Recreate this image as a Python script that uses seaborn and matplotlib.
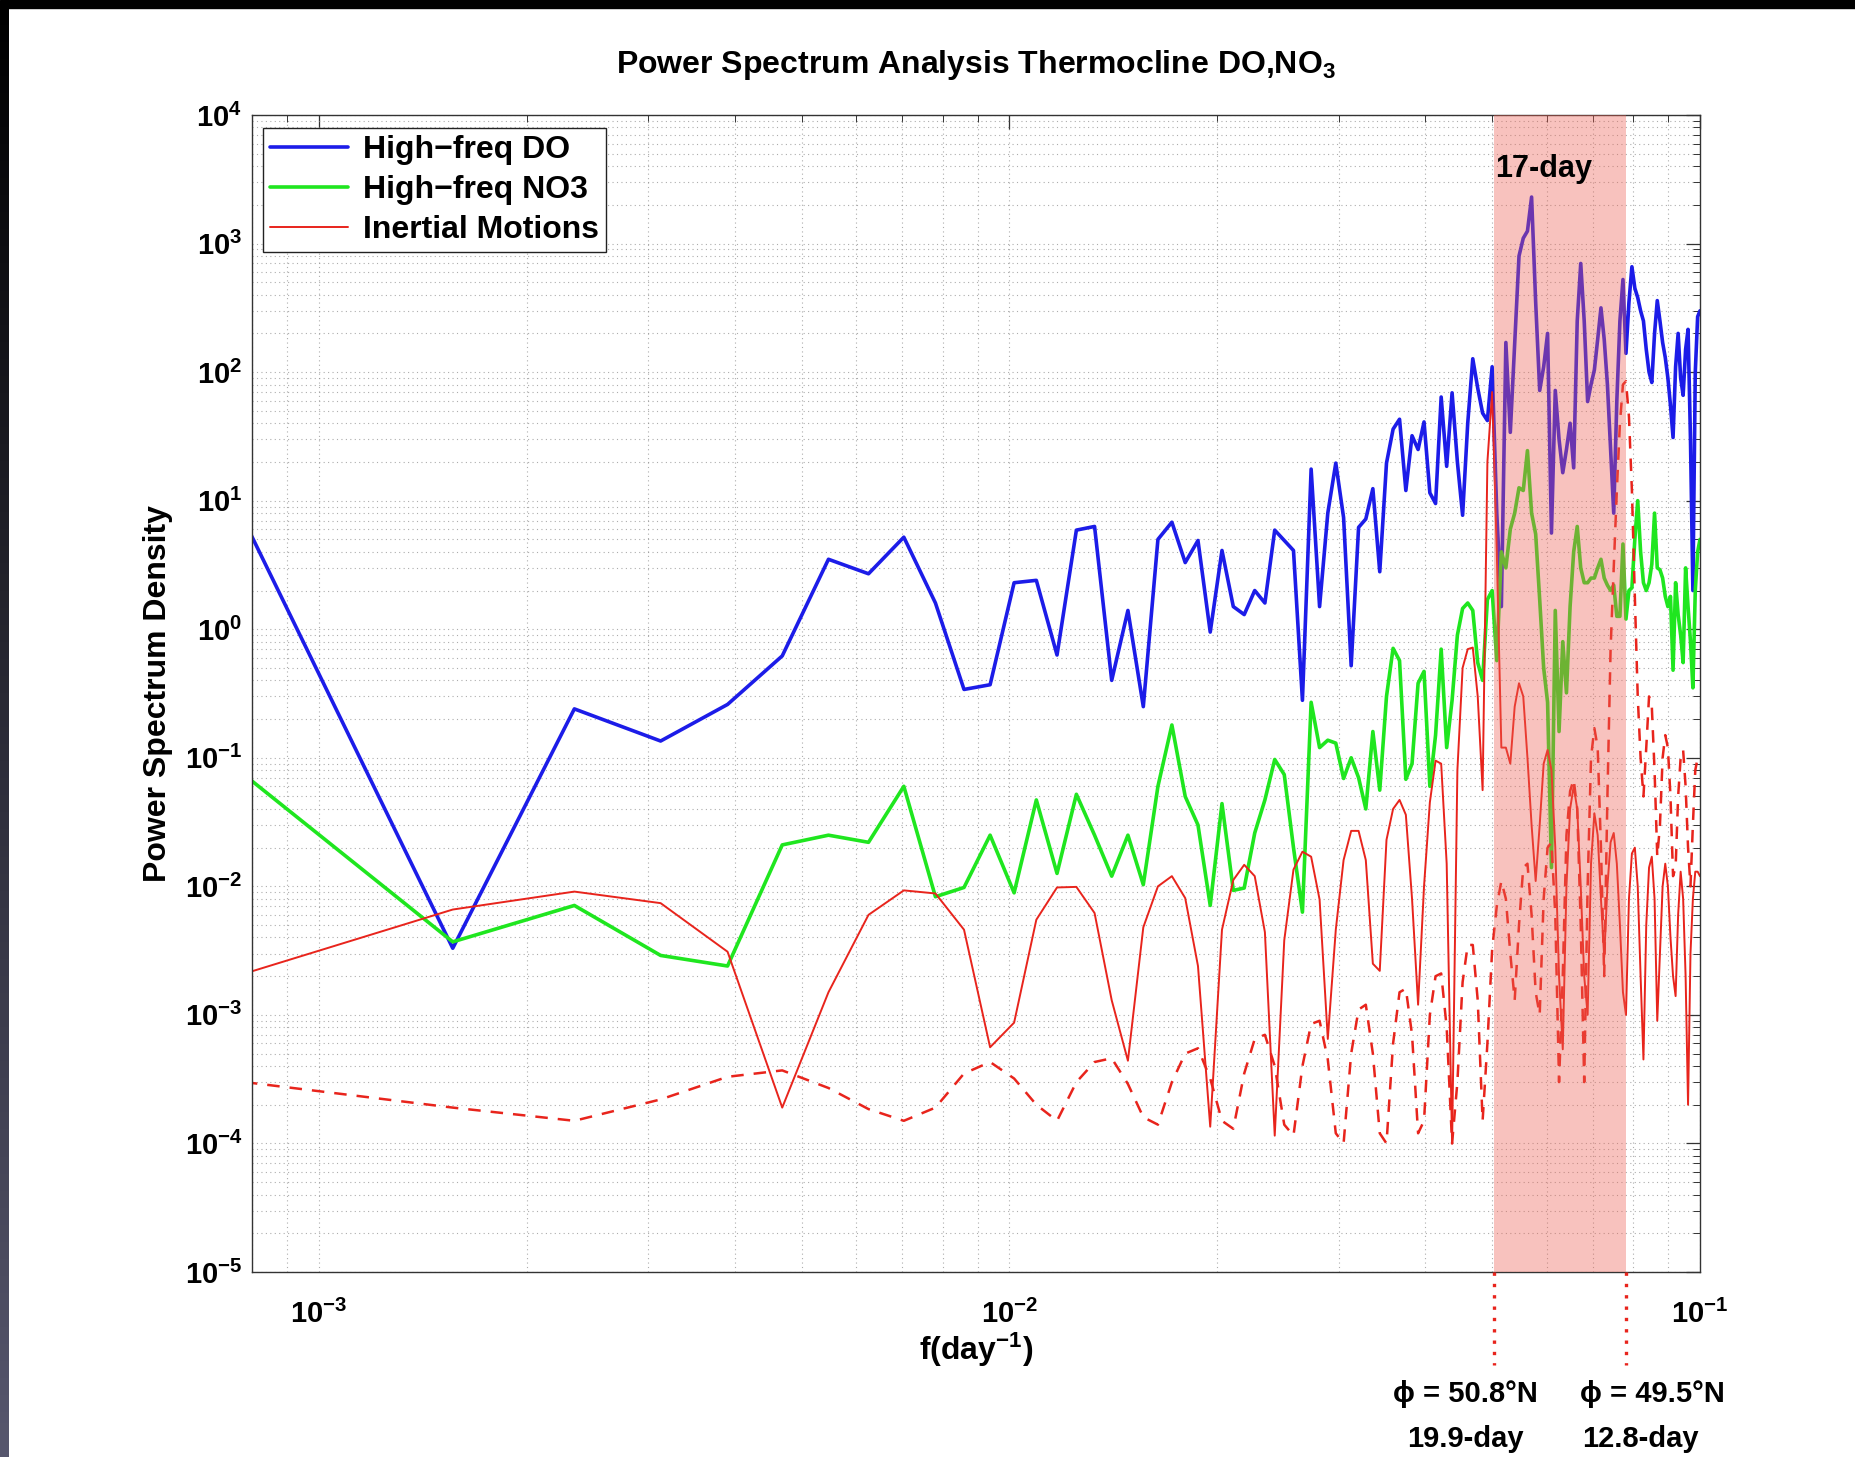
import numpy as np
import pandas as pd
import matplotlib
matplotlib.use("Agg")
import matplotlib.pyplot as plt
import seaborn as sns
from matplotlib.ticker import FixedLocator, LogLocator, NullFormatter, FuncFormatter
from matplotlib.lines import Line2D
from matplotlib.patches import Rectangle

# ---------------- data ----------------
k_index = np.arange(1, 129)
freq = k_index / 1280.0          # f (day^-1), 128 spectral estimates up to 0.1

do_psd = [
    6.8, 0.0033, 0.24, 0.135, 0.26, 0.62, 3.5, 2.7, 5.2, 1.6,
    0.34, 0.37, 2.3, 2.4, 0.63, 5.9, 6.3, 0.40, 1.4, 0.25,
    5.0, 6.8, 3.3, 4.9, 0.95, 4.1, 1.5, 1.3, 2.0, 1.6,
    5.9, 4.9, 4.1, 0.28, 17.6, 1.5, 8.0, 19.6, 7.4, 0.52,
    6.2, 7.2, 12.4, 2.8, 19.6, 36, 43, 12, 32, 25,
    41, 11.5, 9.5, 64, 18.5, 69, 20, 7.7, 40, 127,
    75, 48, 42, 110, 8, 1.5, 170, 34, 170, 800,
    1100, 1250, 2300, 350, 72, 110, 200, 5.6, 72, 30,
    16.5, 25, 40, 18, 250, 700, 250, 59, 80, 104,
    180, 316, 180, 80, 25, 8, 60, 250, 525, 140,
    350, 660, 450, 380, 300, 250, 150, 100, 83, 200,
    360, 250, 170, 130, 90, 55, 31, 110, 200, 90,
    66, 150, 215, 30, 2, 100, 270, 300,
]

no3_psd = [
    0.073, 0.0037, 0.0071, 0.0029, 0.0024, 0.021, 0.025, 0.022, 0.06, 0.0083,
    0.0098, 0.025, 0.0089, 0.047, 0.0126, 0.052, 0.025, 0.012, 0.025, 0.0103,
    0.06, 0.18, 0.05, 0.03, 0.0071, 0.044, 0.0093, 0.0097, 0.026, 0.047,
    0.097, 0.074, 0.02, 0.0063, 0.27, 0.12, 0.137, 0.13, 0.069, 0.1,
    0.07, 0.04, 0.16, 0.056, 0.3, 0.71, 0.57, 0.068, 0.09, 0.38,
    0.47, 0.06, 0.15, 0.7, 0.12, 0.28, 0.9, 1.45, 1.6, 1.4,
    0.55, 0.4, 1.7, 2.0, 0.57, 4.0, 3.0, 6.0, 8.0, 12.6,
    12, 24.5, 8, 5.5, 1.7, 0.5, 0.27, 0.014, 1.4, 0.16,
    0.8, 0.32, 1.5, 4.0, 6.3, 3.0, 2.3, 2.3, 2.5, 2.5,
    3.0, 3.5, 2.5, 2.2, 2.0, 2.2, 1.26, 1.26, 4.6, 1.2,
    2.0, 2.1, 5.0, 10, 4, 2.3, 2.0, 2.3, 3.2, 8,
    3, 2.9, 2.5, 1.8, 1.5, 1.8, 0.48, 2.3, 1.3, 0.9,
    0.55, 3, 1.5, 0.8, 0.35, 2, 4, 5,
]

inertial_508 = [
    0.0021, 0.0066, 0.0091, 0.0074, 0.0031, 1.9e-4, 0.0015, 0.006, 0.0093, 0.0088,
    0.0046, 5.6e-4, 8.7e-4, 0.0055, 0.0098, 0.0099, 0.0062, 0.0013, 4.4e-4, 0.0048,
    0.01, 0.012, 0.0081, 0.0024, 1.35e-4, 0.0046, 0.0112, 0.0147, 0.012, 0.0044,
    1.15e-4, 0.0038, 0.0135, 0.0186, 0.017, 0.0079, 6.5e-4, 0.0046, 0.016, 0.027,
    0.027, 0.016, 0.0025, 0.0022, 0.023, 0.04, 0.047, 0.036, 0.008, 0.0012,
    0.01, 0.045, 0.095, 0.09, 0.015, 1.0e-4, 0.08, 0.5, 0.7, 0.72,
    0.3, 0.056, 20, 70, 4, 0.12, 0.12, 0.09, 0.25, 0.38,
    0.3, 0.1, 0.03, 0.011, 0.03, 0.09, 0.115, 0.08, 0.02, 0.002,
    5.4e-4, 0.01, 0.04, 0.06, 0.04, 0.01, 0.002, 1.0e-3, 0.015, 0.037,
    0.025, 0.008, 2.8e-3, 0.01, 0.022, 0.026, 0.015, 0.005, 0.0015, 1.0e-3,
    0.008, 0.018, 0.02, 0.01, 0.002, 4.5e-4, 0.005, 0.014, 0.017, 0.008,
    9e-4, 0.003, 0.01, 0.015, 0.01, 0.004, 0.002, 1.4e-3, 0.006, 0.013,
    0.008, 0.002, 2e-4, 0.003, 0.008, 0.013, 0.013, 0.012,
]

inertial_495 = [
    3.0e-4, 1.9e-4, 1.5e-4, 2.2e-4, 3.3e-4, 3.7e-4, 2.7e-4, 1.85e-4, 1.5e-4, 1.9e-4,
    3.5e-4, 4.3e-4, 3.2e-4, 2.0e-4, 1.5e-4, 3.0e-4, 4.3e-4, 4.6e-4, 2.9e-4, 1.6e-4,
    1.4e-4, 3.0e-4, 5.0e-4, 5.5e-4, 3.2e-4, 1.5e-4, 1.3e-4, 3.5e-4, 6.5e-4, 7.0e-4,
    4.0e-4, 1.4e-4, 1.15e-4, 4e-4, 8.5e-4, 9e-4, 4.5e-4, 1.2e-4, 1.0e-4, 5e-4,
    1.1e-3, 1.2e-3, 5e-4, 1.2e-4, 1.0e-4, 6e-4, 1.5e-3, 1.6e-3, 7e-4, 1.2e-4,
    1.5e-4, 1.0e-3, 2.0e-3, 2.1e-3, 8e-4, 1.0e-4, 3e-4, 1.8e-3, 3.5e-3, 3.5e-3,
    1.3e-3, 1.5e-4, 6e-4, 3.2e-3, 7e-3, 0.011, 0.008, 3e-3, 1.3e-3, 5e-3,
    0.014, 0.015, 0.006, 1.5e-3, 1e-3, 0.008, 0.02, 0.022, 0.006, 3e-4,
    2e-3, 0.025, 0.055, 0.068, 0.04, 5e-3, 3e-4, 0.01, 0.1, 0.17,
    0.12, 0.02, 2e-3, 0.05, 0.7, 3, 12, 40, 80, 85,
    45, 12, 1.8, 0.3, 0.1, 0.05, 0.12, 0.3, 0.25, 0.08,
    0.017, 0.03, 0.1, 0.15, 0.12, 0.05, 0.012, 0.014, 0.05, 0.1,
    0.115, 0.06, 0.02, 0.01, 0.03, 0.08, 0.1, 0.1,
]

series_names = ["High\u2212freq DO", "High\u2212freq NO3", "Inertial Motions"]
band_low = 1 / 19.9    # 50.8 N
band_high = 1 / 12.8   # 49.5 N
band_notes = [("\u03d5 = 50.8\u00b0N", "19.9-day"), ("\u03d5 = 49.5\u00b0N", "12.8-day")]

df = pd.DataFrame({
    "freq": np.tile(freq, 4),
    "psd": np.concatenate([do_psd, no3_psd, inertial_508, inertial_495]),
    "series": np.repeat(["do", "no3", "in508", "in495"], len(freq)),
})

# ---------------- style ----------------
sns.set_theme(style="white")
plt.rcParams["font.family"] = ["Liberation Sans", "DejaVu Sans"]
plt.rcParams["mathtext.fontset"] = "custom"
plt.rcParams["mathtext.rm"] = "Liberation Sans"
plt.rcParams["mathtext.bf"] = "Liberation Sans:bold"
plt.rcParams["mathtext.it"] = "Liberation Sans:italic"
for key in ["text.color", "axes.labelcolor", "xtick.color", "ytick.color"]:
    plt.rcParams[key] = "black"

W, H = 1855, 1457
fig = plt.figure(figsize=(W / 100, H / 100), dpi=100)
fig.patch.set_facecolor("white")

def fx(x):
    return x / W

def fy(y):
    return 1 - y / H

ax = fig.add_axes([fx(252), fy(1272), (1700 - 252) / W, (1272 - 115) / H])
ax.set_xscale("log")
ax.set_yscale("log")
ax.set_xlim(8e-4, 0.1)
ax.set_ylim(1e-5, 1e4)

BLUE = "#1c1ce8"
GREEN = "#1fe61f"
RED = "#e8241c"

styles = {
    "do": dict(color=BLUE, lw=2.6, ls="-"),
    "no3": dict(color=GREEN, lw=2.6, ls="-"),
    "in508": dict(color=RED, lw=1.4, ls="-"),
    "in495": dict(color=RED, lw=1.8, ls=(0, (5, 4))),
}
for key in ["do", "no3", "in508", "in495"]:
    st = styles[key]
    sns.lineplot(data=df[df.series == key], x="freq", y="psd", ax=ax,
                 estimator=None, sort=False, color=st["color"],
                 linewidth=st["lw"], linestyle=st["ls"], zorder=2)

# shaded inertial band (drawn over the lines, like the original)
ax.axvspan(band_low, band_high, color=(0.93, 0.38, 0.33), alpha=0.38, lw=0, zorder=3)

# dotted markers below the axis
for xb in (band_low, band_high):
    ax.plot([xb, xb], [1e-5, 1.9e-6], color=RED, lw=2.4, ls=(0, (1, 2.4)),
            clip_on=False, zorder=6)

# grid & ticks
ax.xaxis.set_major_locator(FixedLocator([1e-3, 1e-2, 1e-1]))
ax.yaxis.set_major_locator(FixedLocator([10.0 ** e for e in range(-5, 5)]))
ax.xaxis.set_minor_locator(LogLocator(base=10, subs=np.arange(2, 10), numticks=60))
ax.yaxis.set_minor_locator(LogLocator(base=10, subs=np.arange(2, 10), numticks=60))
ax.xaxis.set_minor_formatter(NullFormatter())
ax.yaxis.set_minor_formatter(NullFormatter())
fmt = FuncFormatter(lambda v, p: r"$\mathbf{10^{%d}}$" % int(round(np.log10(v))))
ax.xaxis.set_major_formatter(fmt)
ax.yaxis.set_major_formatter(fmt)
ax.tick_params(which="both", direction="in", top=True, right=True, color="#333333")
ax.tick_params(which="major", length=10, width=0.9, labelsize=21)
ax.tick_params(axis="y", which="major", pad=7)
ax.tick_params(axis="x", which="major", pad=20)
ax.tick_params(which="minor", length=5, width=0.7)
ax.set_axisbelow(True)
ax.grid(True, which="both", color="#8a8a8a", linestyle=(0, (1, 3)), linewidth=0.8, alpha=0.7)
for sp in ax.spines.values():
    sp.set_color("#333333")
    sp.set_linewidth(1.0)

# labels
ax.set_xlabel(r"$\mathbf{f(day^{-1})}$", fontsize=23)
ax.xaxis.set_label_coords(0.5, -0.051)
ax.set_ylabel("Power Spectrum Density", fontsize=23, fontweight="bold")
ax.yaxis.set_label_coords(-0.0546, 0.5)

fig.text(fx(976), fy(73), r"Power Spectrum Analysis Thermocline DO,NO$_\mathbf{3}$",
         fontsize=23, fontweight="bold", ha="center", va="baseline")

# legend
handles = [Line2D([], [], color=BLUE, lw=2.6),
           Line2D([], [], color=GREEN, lw=2.6),
           Line2D([], [], color=RED, lw=1.4)]
leg = ax.legend(handles, series_names, loc="upper left",
                bbox_to_anchor=(11 / 1448, 1 - 13 / 1157), borderaxespad=0,
                prop={"size": 23, "weight": "bold"}, frameon=True, fancybox=False,
                framealpha=1, edgecolor="#222222", borderpad=0.22, labelspacing=0.31,
                handlelength=2.45, handletextpad=0.45)
leg.get_frame().set_linewidth(1.0)
leg.set_zorder(10)

# annotations
fig.text(fx(1495), fy(177), "17-day", fontsize=22, fontweight="bold", ha="left", va="baseline")
fig.text(fx(1393), fy(1402), band_notes[0][0], fontsize=21, fontweight="bold", ha="left", va="baseline")
fig.text(fx(1407), fy(1447), band_notes[0][1], fontsize=21, fontweight="bold", ha="left", va="baseline")
fig.text(fx(1580), fy(1402), band_notes[1][0], fontsize=21, fontweight="bold", ha="left", va="baseline")
fig.text(fx(1582), fy(1447), band_notes[1][1], fontsize=21, fontweight="bold", ha="left", va="baseline")

# dark frame edges of the original screenshot
fig.patches.append(Rectangle((0, fy(8)), 1, 8 / H, transform=fig.transFigure,
                             color="black", zorder=0))
bax = fig.add_axes([0, 0, 9 / W, 1 - 8 / H])
grad = np.linspace(0, 1, 256)[:, None]
top_c = np.array([0.0, 0.0, 0.0])
bot_c = np.array([0.34, 0.34, 0.43])
img = top_c[None, None, :] * (1 - grad[:, :, None]) + bot_c[None, None, :] * grad[:, :, None]
bax.imshow(img, aspect="auto", extent=(0, 1, 0, 1))
bax.axis("off")

fig.savefig("out.png", dpi=100)
